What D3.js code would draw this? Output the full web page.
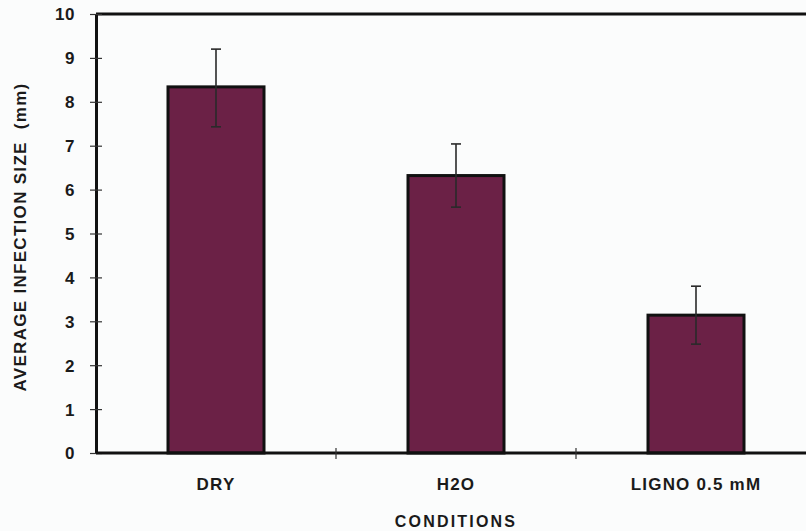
<!DOCTYPE html>
<html>
<head>
<meta charset="utf-8">
<title>Average infection size</title>
<script src="https://d3js.org/d3.v7.min.js"></script>
<style>
  body { margin: 0; background: #fbfcfc; }
  text { font-family: "Liberation Sans", Arial, sans-serif; font-weight: bold; fill: #1a1a1a; }
</style>
</head>
<body>
<script>
var categories = ["DRY", "H2O", "LIGNO 0.5 mM"];
var means = [8.34, 6.32, 3.14];
var errLow = [7.43, 5.60, 2.48];
var errHigh = [9.20, 7.04, 3.80];
var yTicks = [0, 1, 2, 3, 4, 5, 6, 7, 8, 9, 10];

var width = 806, height = 531;
var pad = {left: 96, right: -10, top: 14, bottom: 78};

var svg = d3.select("body").append("svg")
  .attr("width", width).attr("height", height)
  .style("background", "#fbfcfc");

var x = d3.scaleBand().domain(categories)
  .range([pad.left, width - pad.right]);
var y = d3.scaleLinear().domain([0, 10])
  .range([height - pad.bottom, pad.top]);

var barW = x.bandwidth() * 0.4;

// bars
svg.selectAll(".bar").data(categories).enter().append("rect")
  .attr("class", "bar")
  .attr("x", function(d){ return x(d) + (x.bandwidth() - barW) / 2; })
  .attr("y", function(d, i){ return y(means[i]); })
  .attr("width", barW)
  .attr("height", function(d, i){ return y(0) - y(means[i]); })
  .attr("fill", "#6b2146")
  .attr("stroke", "#111")
  .attr("stroke-width", 3);

// error bars
var eb = svg.selectAll(".err").data(categories).enter().append("g")
  .attr("class", "err")
  .attr("stroke", "#2a2a2a").attr("stroke-width", 1.6);
eb.append("line")
  .attr("x1", function(d){ return x(d) + x.bandwidth() / 2; })
  .attr("x2", function(d){ return x(d) + x.bandwidth() / 2; })
  .attr("y1", function(d, i){ return y(errLow[i]); })
  .attr("y2", function(d, i){ return y(errHigh[i]); });
eb.append("line")
  .attr("x1", function(d){ return x(d) + x.bandwidth() / 2 - 5; })
  .attr("x2", function(d){ return x(d) + x.bandwidth() / 2 + 5; })
  .attr("y1", function(d, i){ return y(errHigh[i]); })
  .attr("y2", function(d, i){ return y(errHigh[i]); });
eb.append("line")
  .attr("x1", function(d){ return x(d) + x.bandwidth() / 2 - 5; })
  .attr("x2", function(d){ return x(d) + x.bandwidth() / 2 + 5; })
  .attr("y1", function(d, i){ return y(errLow[i]); })
  .attr("y2", function(d, i){ return y(errLow[i]); });

// top frame line
svg.append("line")
  .attr("x1", pad.left).attr("x2", width)
  .attr("y1", y(10)).attr("y2", y(10))
  .attr("stroke", "#111").attr("stroke-width", 3);

// y axis
var yAxis = d3.axisLeft(y).tickValues(yTicks).tickSizeInner(6).tickSizeOuter(0).tickPadding(15);
var gy = svg.append("g").attr("transform", "translate(" + pad.left + ",0)").call(yAxis);
gy.select(".domain").attr("stroke", "#111").attr("stroke-width", 3);
gy.selectAll(".tick line").attr("x2", -6).attr("x1", 6).attr("stroke", "#333").attr("stroke-width", 1.2);
gy.selectAll(".tick text").style("font-size", "17px").style("letter-spacing", "0.5px").attr("dy", "0.35em");

// x axis
var gx = svg.append("g").attr("transform", "translate(0," + y(0) + ")")
  .call(d3.axisBottom(x).tickSize(0).tickPadding(25));
gx.select(".domain").attr("d", "M" + pad.left + ",0H" + width).attr("stroke", "#111").attr("stroke-width", 3);
gx.selectAll(".tick text").style("font-size", "17px").style("letter-spacing", "1.2px");
// boundary ticks between categories
svg.selectAll(".xsep").data(categories.slice(1)).enter().append("line")
  .attr("x1", function(d){ return x(d); }).attr("x2", function(d){ return x(d); })
  .attr("y1", y(0) - 5).attr("y2", y(0) + 6)
  .attr("stroke", "#333").attr("stroke-width", 1.2);

// axis titles
svg.append("text")
  .attr("x", x("H2O") + x.bandwidth() / 2).attr("y", 527)
  .attr("text-anchor", "middle").style("font-size", "16px")
  .style("letter-spacing", "2.2px")
  .text("CONDITIONS");
svg.append("text")
  .attr("transform", "translate(26," + 237 + ") rotate(-90)")
  .attr("text-anchor", "middle").style("font-size", "17px")
  .style("letter-spacing", "1.3px")
  .attr("xml:space", "preserve")
  .text("AVERAGE INFECTION SIZE  (mm)");
</script>
</body>
</html>
